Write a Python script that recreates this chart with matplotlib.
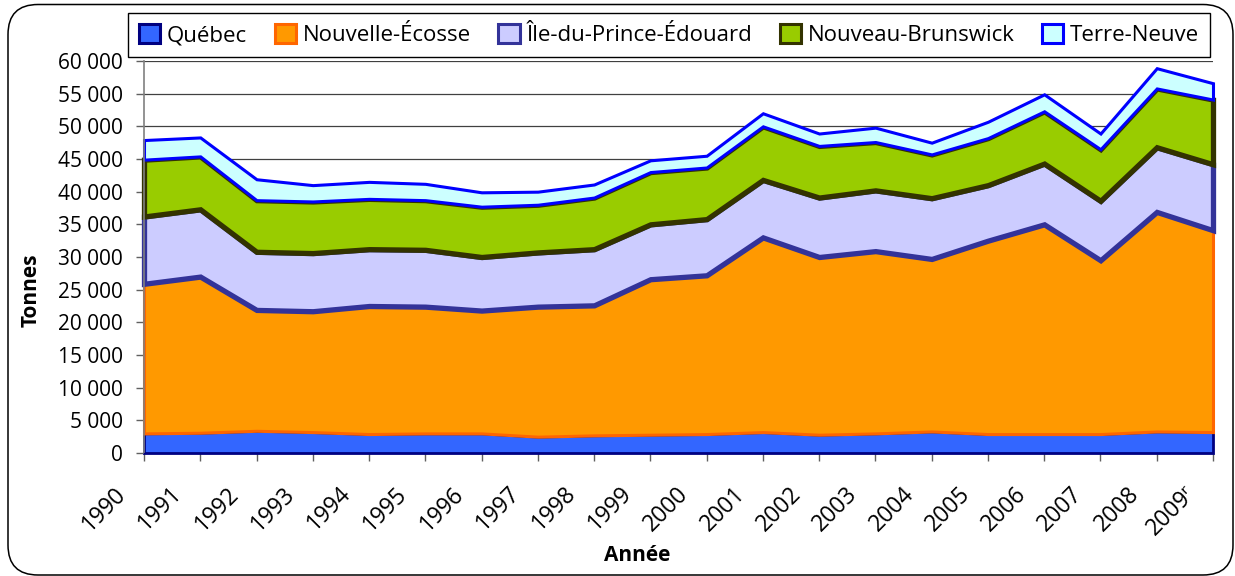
import numpy as np
import matplotlib
matplotlib.use("Agg")
from matplotlib import pyplot as plt
from matplotlib.patches import Patch, FancyBboxPatch
from matplotlib.ticker import FuncFormatter, MultipleLocator
from matplotlib.transforms import ScaledTranslation

plt.rcParams['font.family'] = ['Open Sans', 'DejaVu Sans']

# Données (tonnes)
annees = list(range(1990, 2010))
etiquettes = [str(a) for a in annees[:-1]] + ['2009ʳ']

quebec = [3000, 3100, 3400, 3200, 2900, 3000, 3000, 2500, 2700, 2800,
          2900, 3200, 2800, 3000, 3300, 2900, 2900, 2900, 3300, 3200]
nouvelle_ecosse = [22900, 23900, 18500, 18500, 19600, 19400, 18800, 19900, 19900, 23800,
                   24300, 29800, 27200, 27900, 26400, 29600, 32100, 26600, 33600, 30900]
ipe = [10300, 10300, 8900, 8900, 8700, 8700, 8200, 8300, 8600, 8400,
       8600, 8800, 9100, 9300, 9300, 8500, 9300, 9100, 9900, 10100]
nouveau_brunswick = [8700, 8100, 7900, 7900, 7700, 7600, 7700, 7300, 7900, 8000,
                     7900, 8200, 7900, 7400, 6700, 7200, 8000, 7900, 9000, 9900]
terre_neuve = [3000, 2900, 3200, 2500, 2600, 2500, 2200, 2000, 2000, 1800,
               1800, 2000, 1900, 2200, 1800, 2500, 2600, 2400, 3100, 2500]

noms = ['Québec', 'Nouvelle-Écosse', 'Île-du-Prince-Édouard', 'Nouveau-Brunswick', 'Terre-Neuve']
remplissage = ['#3366FF', '#FF9900', '#CCCCFF', '#99CC00', '#CCFFFF']
bordures = ['#000080', '#FF6600', '#333399', '#333300', '#0000FF']
epaisseurs = [2.0, 2.2, 3.8, 3.8, 2.2]

fig = plt.figure(figsize=(12.35, 5.76), dpi=100)
ax = fig.add_axes([144 / 1235, 1 - 453 / 576, (1213 - 144) / 1235, (453 - 61) / 576])

# cadre arrondi autour de la figure
cadre = FancyBboxPatch((0.08, 0.01), 12.25, 5.705,
                       boxstyle="round,pad=0,rounding_size=0.3",
                       transform=fig.dpi_scale_trans, facecolor='none',
                       edgecolor='black', linewidth=1.1)
fig.patches.append(cadre)

series = [quebec, nouvelle_ecosse, ipe, nouveau_brunswick, terre_neuve]
polys = ax.stackplot(annees, *series, colors=remplissage, zorder=2)
for p, ec, lw in zip(polys, bordures, epaisseurs):
    p.set_edgecolor(ec)
    p.set_linewidth(lw)
    p.set_joinstyle('miter')
    p.set_clip_on(False)

ax.set_xlim(1990, 2009)
ax.set_ylim(0, 60000)
ax.yaxis.set_major_locator(MultipleLocator(5000))
ax.yaxis.set_major_formatter(FuncFormatter(lambda v, p: f"{int(v):,}".replace(",", " ")))
ax.grid(axis='y', color='#404040', linewidth=0.9, zorder=0)
ax.set_axisbelow(True)

for s in ['top', 'right']:
    ax.spines[s].set_visible(False)
ax.spines['left'].set_color('#808080')
ax.spines['left'].set_linewidth(1.2)
ax.spines['bottom'].set_color('#000080')

ax.tick_params(axis='y', length=6, width=1, color='#606060', pad=9, labelsize=15)
ax.tick_params(axis='x', length=5.5, width=1, color='#606060')

# étiquettes des années, inclinées à 45°
ax.set_xticks(annees)
ax.set_xticklabels([])
decalage = ax.get_xaxis_transform() + ScaledTranslation(-0.13, -0.29, fig.dpi_scale_trans)
for a, lab in zip(annees, etiquettes):
    ax.text(a, 0, lab, transform=decalage, rotation=45, ha='right', va='top', fontsize=16.5)

ax.set_xlabel('Année', fontsize=15, fontweight='bold')
ax.xaxis.set_label_coords((637 - 144) / 1069, (453 - 545) / 392)
ax.set_ylabel('Tonnes', fontsize=15, fontweight='bold')
ax.yaxis.set_label_coords((42 - 144) / 1069, (453 - 290) / 392)

poignees = [Patch(facecolor=f, edgecolor=e, linewidth=2.2) for f, e in zip(remplissage, bordures)]
leg = fig.legend(poignees, noms, loc='upper left', bbox_to_anchor=(128 / 1235, 1 - 13 / 576),
                 ncol=5, fontsize=16, frameon=True, fancybox=False, framealpha=1,
                 edgecolor='black', handlelength=0.95, handleheight=0.95,
                 handletextpad=0.3, columnspacing=1.25, borderpad=0.5, borderaxespad=0)
leg.get_frame().set_linewidth(1.0)

fig.savefig('out.png', dpi=100)
